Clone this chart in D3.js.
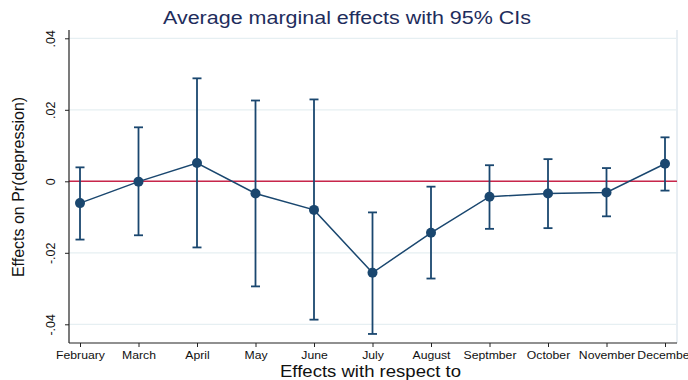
<!DOCTYPE html>
<html>
<head>
<meta charset="utf-8">
<script src="https://cdn.jsdelivr.net/npm/d3@7/dist/d3.min.js"></script>
<style>
  html, body { margin: 0; padding: 0; background: #fff; }
  svg { display: block; font-family: "Liberation Sans", Arial, sans-serif; }
</style>
</head>
<body>
<svg id="chart" width="688" height="380"></svg>
<script>
const months = ["February","March","April","May","June","July","August","Septmber","October","November","December"];
const estimate = [-0.0061, -0.0001, 0.0051, -0.0034, -0.0080, -0.0256, -0.0144, -0.0043, -0.0034, -0.0031, 0.0049];
const upperCI  = [0.0039, 0.0151, 0.0288, 0.0226, 0.0229, -0.0087, -0.0015, 0.0045, 0.0062, 0.0037, 0.0123];
const lowerCI  = [-0.0163, -0.0151, -0.0185, -0.0294, -0.0387, -0.0427, -0.0272, -0.0133, -0.0131, -0.0098, -0.0026];
const yTicks = [0.04, 0.02, 0, -0.02, -0.04];
const yTickLabels = [".04", ".02", "0", "-.02", "-.04"];

const rows = months.map((m, i) => ({m, est: estimate[i], hi: upperCI[i], lo: lowerCI[i]}));

const svg = d3.select("#chart");
const plot = {left: 69, right: 677, top: 30, bottom: 343};
const stretch = 1.2;   // reference text is horizontally widened

function widen(sel, factor) {
  sel.each(function() {
    const w = this.getComputedTextLength();
    d3.select(this).attr("textLength", w * factor).attr("lengthAdjust", "spacingAndGlyphs");
  });
}

const x = d3.scalePoint().domain(months).range([80, 665]);
const y = d3.scaleLinear().domain([-0.04, 0.04]).range([324.3, 38.3]);

const navy = "#1a476f";

// gridlines
svg.append("g").selectAll("line").data(yTicks).join("line")
  .attr("x1", plot.left).attr("x2", plot.right)
  .attr("y1", d => y(d)).attr("y2", d => y(d))
  .attr("stroke", "#e6eff2").attr("stroke-width", 1.2);

// right border (faint)
svg.append("line")
  .attr("x1", plot.right).attr("x2", plot.right)
  .attr("y1", plot.top).attr("y2", plot.bottom)
  .attr("stroke", "#e8eef3").attr("stroke-width", 2);

// zero reference line
svg.append("line")
  .attr("x1", plot.left).attr("x2", plot.right)
  .attr("y1", y(0)).attr("y2", y(0))
  .attr("stroke", "#c8264a").attr("stroke-width", 1.4);

// y axis
const yAxis = d3.axisLeft(y).tickValues(yTicks)
  .tickFormat((d, i) => yTickLabels[i]).tickSize(4).tickSizeOuter(0);
const gy = svg.append("g").attr("transform", `translate(${plot.left},0)`).call(yAxis);
gy.select(".domain").attr("d", `M0,${plot.top}V${plot.bottom}`).attr("stroke", "#222").attr("stroke-width", 1.2);
gy.selectAll(".tick line").attr("stroke", "#222");
gy.selectAll(".tick text")
  .attr("transform", "rotate(-90)")
  .attr("x", 0).attr("y", -14)
  .attr("dy", 0)
  .attr("text-anchor", "middle")
  .attr("font-size", 12.5).attr("fill", "#111")
  .attr("font-family", "Liberation Sans, Arial, sans-serif");

// x axis
const xAxis = d3.axisBottom(x).tickSize(4).tickSizeOuter(0);
const gx = svg.append("g").attr("transform", `translate(0,${plot.bottom})`).call(xAxis);
gx.select(".domain").attr("d", `M${plot.left},0H${plot.right}`).attr("stroke", "#222").attr("stroke-width", 1.2);
gx.selectAll(".tick line").attr("stroke", "#222");
gx.selectAll(".tick text")
  .attr("y", 9).attr("dy", "0.71em")
  .attr("font-size", 10).attr("fill", "#111")
  .attr("font-family", "Liberation Sans, Arial, sans-serif")
  .call(widen, 1.22);

// error bars
const eb = svg.append("g").attr("stroke", navy).attr("stroke-width", 1.8).attr("fill", "none");
eb.selectAll("line.v").data(rows).join("line").attr("class", "v")
  .attr("x1", d => x(d.m)).attr("x2", d => x(d.m))
  .attr("y1", d => y(d.hi)).attr("y2", d => y(d.lo));
eb.selectAll("line.hi").data(rows).join("line").attr("class", "hi")
  .attr("x1", d => x(d.m) - 4.5).attr("x2", d => x(d.m) + 4.5)
  .attr("y1", d => y(d.hi)).attr("y2", d => y(d.hi));
eb.selectAll("line.lo").data(rows).join("line").attr("class", "lo")
  .attr("x1", d => x(d.m) - 4.5).attr("x2", d => x(d.m) + 4.5)
  .attr("y1", d => y(d.lo)).attr("y2", d => y(d.lo));

// connecting line
svg.append("path").datum(rows)
  .attr("fill", "none").attr("stroke", navy).attr("stroke-width", 1.5)
  .attr("d", d3.line().x(d => x(d.m)).y(d => y(d.est)));

// markers
svg.append("g").selectAll("circle").data(rows).join("circle")
  .attr("cx", d => x(d.m)).attr("cy", d => y(d.est)).attr("r", 5)
  .attr("fill", navy);

// title
svg.append("text").attr("x", 347).attr("y", 24).attr("text-anchor", "middle")
  .attr("font-size", 17.5).attr("fill", "#1e2d5c")
  .text("Average marginal effects with 95% CIs")
  .call(sel => sel.attr("textLength", 368).attr("lengthAdjust", "spacingAndGlyphs"));

// axis titles
svg.append("text").attr("x", 370.5).attr("y", 377).attr("text-anchor", "middle")
  .attr("font-size", 16.5).attr("fill", "#111")
  .text("Effects with respect to")
  .call(sel => sel.attr("textLength", 181).attr("lengthAdjust", "spacingAndGlyphs"));
svg.append("text").attr("transform", "translate(24,187) rotate(-90)").attr("text-anchor", "middle")
  .attr("font-size", 16).attr("fill", "#111")
  .text("Effects on Pr(depression)");
</script>
</body>
</html>
